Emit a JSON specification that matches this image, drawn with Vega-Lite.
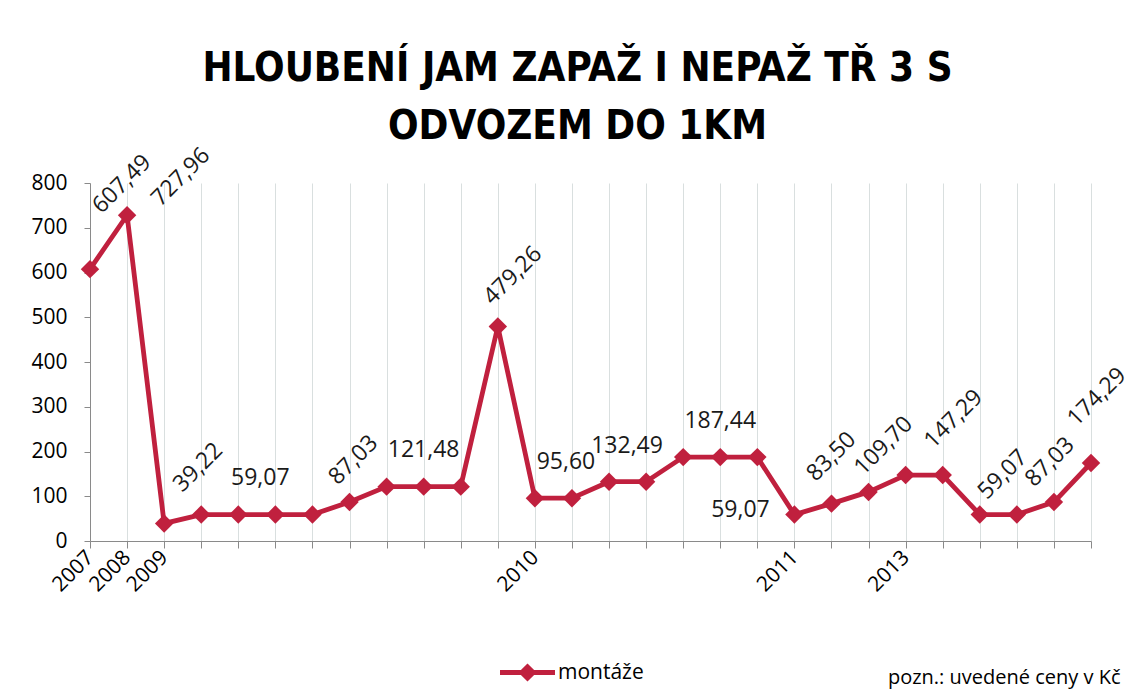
{
  "$schema": "https://vega.github.io/schema/vega-lite/v6.json",
  "autosize": {"type": "none"},
  "width": 1001,
  "height": 358,
  "padding": {"left": 90, "top": 183, "right": 41, "bottom": 151},
  "background": "white",
  "title": {
    "text": ["HLOUBENÍ JAM ZAPAŽ I NEPAŽ TŘ 3 S", "ODVOZEM DO 1KM"],
    "font": "Liberation Sans Narrow, DejaVu Sans Condensed, sans-serif",
    "fontWeight": "bold",
    "fontSize": 40,
    "lineHeight": 58,
    "color": "#000000",
    "anchor": "middle",
    "frame": "group",
    "dx": -13,
    "offset": -3
  },
  "data": {
    "values": [
      {"period": "2007", "value": 607.49, "label": "607,49", "series": "montáže"},
      {"period": "2008", "value": 727.96, "label": "727,96", "series": "montáže"},
      {"period": "2009", "value": 39.22, "label": "39,22", "series": "montáže"},
      {"period": "2009-2", "value": 59.07, "label": "", "series": "montáže"},
      {"period": "2009-3", "value": 59.07, "label": "59,07", "series": "montáže"},
      {"period": "2009-4", "value": 59.07, "label": "", "series": "montáže"},
      {"period": "2009-5", "value": 59.07, "label": "", "series": "montáže"},
      {"period": "2009-6", "value": 87.03, "label": "87,03", "series": "montáže"},
      {"period": "2009-7", "value": 121.48, "label": "", "series": "montáže"},
      {"period": "2009-8", "value": 121.48, "label": "121,48", "series": "montáže"},
      {"period": "2009-9", "value": 121.48, "label": "", "series": "montáže"},
      {"period": "2009-10", "value": 479.26, "label": "479,26", "series": "montáže"},
      {"period": "2010", "value": 95.60, "label": "", "series": "montáže"},
      {"period": "2010-2", "value": 95.60, "label": "95,60", "series": "montáže"},
      {"period": "2010-3", "value": 132.49, "label": "132,49", "series": "montáže"},
      {"period": "2010-4", "value": 132.49, "label": "", "series": "montáže"},
      {"period": "2010-5", "value": 187.44, "label": "", "series": "montáže"},
      {"period": "2010-6", "value": 187.44, "label": "187,44", "series": "montáže"},
      {"period": "2010-7", "value": 187.44, "label": "", "series": "montáže"},
      {"period": "2011", "value": 59.07, "label": "59,07", "series": "montáže"},
      {"period": "2011-2", "value": 83.50, "label": "83,50", "series": "montáže"},
      {"period": "2011-3", "value": 109.70, "label": "109,70", "series": "montáže"},
      {"period": "2013", "value": 147.29, "label": "147,29", "series": "montáže"},
      {"period": "2013-2", "value": 147.29, "label": "", "series": "montáže"},
      {"period": "2013-3", "value": 59.07, "label": "59,07", "series": "montáže"},
      {"period": "2013-4", "value": 59.07, "label": "", "series": "montáže"},
      {"period": "2013-5", "value": 87.03, "label": "87,03", "series": "montáže"},
      {"period": "2013-6", "value": 174.29, "label": "174,29", "series": "montáže"}
    ]
  },
  "encoding": {
    "x": {
      "field": "period",
      "type": "ordinal",
      "sort": null,
      "scale": {"type": "point", "padding": 0},
      "axis": {
        "title": "pozn.: uvedené ceny v Kč",
        "titleFont": "Open Sans",
        "titleFontSize": 20,
        "titleFontWeight": "normal",
        "titleColor": "#000000",
        "titleAnchor": null,
        "titleAlign": "right",
        "titleBaseline": "alphabetic",
        "titleX": 1030,
        "titleY": 142,
        "labelExpr": "indexof(datum.value, '-') >= 0 ? '' : datum.value",
        "labelAngle": -45,
        "labelAlign": "right",
        "labelBaseline": "middle",
        "labelPadding": 6,
        "labelFont": "Open Sans",
        "labelFontSize": 21,
        "labelColor": "#000000",
        "labelOverlap": false,
        "grid": true,
        "gridColor": "#D9DFDF",
        "gridWidth": 1,
        "domainColor": "#8A8A8A",
        "tickColor": "#8A8A8A",
        "tickSize": 7
      }
    },
    "y": {
      "field": "value",
      "type": "quantitative",
      "scale": {"domain": [0, 800], "nice": false},
      "axis": {
        "title": null,
        "values": [0, 100, 200, 300, 400, 500, 600, 700, 800],
        "grid": false,
        "labelFont": "Open Sans",
        "labelFontSize": 21,
        "labelColor": "#000000",
        "labelPadding": 17,
        "domainColor": "#8A8A8A",
        "tickColor": "#8A8A8A",
        "tickSize": 6
      }
    }
  },
  "layer": [
    {"mark": {"type": "line", "color": "#C0203E", "strokeWidth": 4.8}},
    {
      "mark": {"type": "point", "shape": "diamond", "filled": true, "size": 340, "opacity": 1},
      "encoding": {
        "color": {
          "field": "series",
          "type": "nominal",
          "scale": {"range": ["#C0203E"]},
          "legend": {
            "title": null,
            "orient": "none",
            "legendX": 410,
            "legendY": 462,
            "symbolType": "M-1,-0.09H-0.24L0,-0.33L0.24,-0.09H1V0.09H0.24L0,0.33L-0.24,0.09H-1Z",
            "symbolSize": 3025,
            "symbolStrokeWidth": 0,
            "symbolOpacity": 1,
            "labelFont": "Open Sans",
            "labelFontSize": 21,
            "labelColor": "#000000",
            "labelOffset": 3
          }
        }
      }
    },
    {"transform": [{"filter": "datum.period == '2007'"}], "mark": {"type": "text", "angle": 315, "align": "center", "baseline": "middle", "dx": 82.7, "dy": -37.5, "font": "Open Sans", "fontSize": 23, "color": "#1a1a1a"}, "encoding": {"text": {"field": "label"}}},
    {"transform": [{"filter": "datum.period == '2008'"}], "mark": {"type": "text", "angle": 315, "align": "center", "baseline": "middle", "dx": 65, "dy": 11, "font": "Open Sans", "fontSize": 23, "color": "#1a1a1a"}, "encoding": {"text": {"field": "label"}}},
    {"transform": [{"filter": "datum.period == '2009'"}], "mark": {"type": "text", "angle": 315, "align": "center", "baseline": "middle", "dx": 63.6, "dy": -15.6, "font": "Open Sans", "fontSize": 23, "color": "#1a1a1a"}, "encoding": {"text": {"field": "label"}}},
    {"transform": [{"filter": "datum.period == '2009-6'"}], "mark": {"type": "text", "angle": 315, "align": "center", "baseline": "middle", "dx": 32.5, "dy": -26.9, "font": "Open Sans", "fontSize": 23, "color": "#1a1a1a"}, "encoding": {"text": {"field": "label"}}},
    {"transform": [{"filter": "datum.period == '2009-10'"}], "mark": {"type": "text", "angle": 315, "align": "center", "baseline": "middle", "dx": 46.7, "dy": -25.5, "font": "Open Sans", "fontSize": 23, "color": "#1a1a1a"}, "encoding": {"text": {"field": "label"}}},
    {"transform": [{"filter": "datum.period == '2011-2'"}], "mark": {"type": "text", "angle": 315, "align": "center", "baseline": "middle", "dx": 33.2, "dy": -33.2, "font": "Open Sans", "fontSize": 23, "color": "#1a1a1a"}, "encoding": {"text": {"field": "label"}}},
    {"transform": [{"filter": "datum.period == '2011-3'"}], "mark": {"type": "text", "angle": 315, "align": "center", "baseline": "middle", "dx": 43.1, "dy": -21.9, "font": "Open Sans", "fontSize": 23, "color": "#1a1a1a"}, "encoding": {"text": {"field": "label"}}},
    {"transform": [{"filter": "datum.period == '2013'"}], "mark": {"type": "text", "angle": 315, "align": "center", "baseline": "middle", "dx": 73.5, "dy": -5.7, "font": "Open Sans", "fontSize": 23, "color": "#1a1a1a"}, "encoding": {"text": {"field": "label"}}},
    {"transform": [{"filter": "datum.period == '2013-3'"}], "mark": {"type": "text", "angle": 315, "align": "center", "baseline": "middle", "dx": 44.6, "dy": -12, "font": "Open Sans", "fontSize": 23, "color": "#1a1a1a"}, "encoding": {"text": {"field": "label"}}},
    {"transform": [{"filter": "datum.period == '2013-5'"}], "mark": {"type": "text", "angle": 315, "align": "center", "baseline": "middle", "dx": 25.5, "dy": -31.1, "font": "Open Sans", "fontSize": 23, "color": "#1a1a1a"}, "encoding": {"text": {"field": "label"}}},
    {"transform": [{"filter": "datum.period == '2013-6'"}], "mark": {"type": "text", "angle": 315, "align": "center", "baseline": "middle", "dx": 50.9, "dy": -42.4, "font": "Open Sans", "fontSize": 23, "color": "#1a1a1a"}, "encoding": {"text": {"field": "label"}}},
    {"transform": [{"filter": "datum.period == '2009-3'"}], "mark": {"type": "text", "align": "center", "baseline": "middle", "dx": 22, "dy": -37, "font": "Open Sans", "fontSize": 23, "color": "#1a1a1a"}, "encoding": {"text": {"field": "label"}}},
    {"transform": [{"filter": "datum.period == '2009-8'"}], "mark": {"type": "text", "align": "center", "baseline": "middle", "dx": 0, "dy": -37, "font": "Open Sans", "fontSize": 23, "color": "#1a1a1a"}, "encoding": {"text": {"field": "label"}}},
    {"transform": [{"filter": "datum.period == '2010-2'"}], "mark": {"type": "text", "align": "center", "baseline": "middle", "dx": -6, "dy": -36, "font": "Open Sans", "fontSize": 23, "color": "#1a1a1a"}, "encoding": {"text": {"field": "label"}}},
    {"transform": [{"filter": "datum.period == '2010-3'"}], "mark": {"type": "text", "align": "center", "baseline": "middle", "dx": 18, "dy": -36, "font": "Open Sans", "fontSize": 23, "color": "#1a1a1a"}, "encoding": {"text": {"field": "label"}}},
    {"transform": [{"filter": "datum.period == '2010-6'"}], "mark": {"type": "text", "align": "center", "baseline": "middle", "dx": 0, "dy": -36, "font": "Open Sans", "fontSize": 23, "color": "#1a1a1a"}, "encoding": {"text": {"field": "label"}}},
    {"transform": [{"filter": "datum.period == '2011'"}], "mark": {"type": "text", "align": "center", "baseline": "middle", "dx": -54, "dy": -5, "font": "Open Sans", "fontSize": 23, "color": "#1a1a1a"}, "encoding": {"text": {"field": "label"}}}
  ],
  "config": {
    "view": {"stroke": null}
  }
}
